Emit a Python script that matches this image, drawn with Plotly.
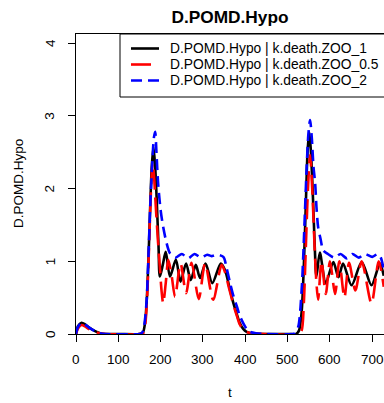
import plotly.graph_objects as go

# ---- data ----
t_black = [0, 5, 13, 22, 33, 45, 57, 70, 100, 150, 158, 163, 167, 171, 175, 179, 183, 187, 191, 195, 198,
           205, 212, 222, 236, 247, 260, 271, 283, 293, 306, 322, 342, 352, 362, 372, 380, 387, 395, 403, 415,
           450, 500, 520, 527, 533, 538, 543, 547, 551, 555, 560, 564, 568, 576, 590, 608, 620, 631, 651,
           675, 698, 718, 727]
v_black = [0, 0.11, 0.155, 0.13, 0.08, 0.04, 0.01, 0, 0, 0, 0.02, 0.15, 0.45, 1.0, 1.7, 2.3, 2.57, 2.3, 1.8,
           1.2, 0.79, 0.95, 1.13, 0.79, 1.02, 0.72, 0.97, 0.74, 0.95, 0.77, 0.97, 0.70, 0.97, 0.88, 0.65,
           0.42, 0.27, 0.15, 0.07, 0.03, 0.01, 0, 0, 0, 0.05, 0.3, 0.9, 1.8, 2.5, 2.78, 2.5, 1.84, 1.2, 0.79,
           1.12, 0.70, 0.99, 0.78, 0.97, 0.67, 0.99, 0.67, 0.97, 0.80]

t_red = [0, 5, 13, 22, 33, 45, 57, 70, 150, 160, 164, 168, 172, 176, 179, 181, 184, 187, 190, 194, 198, 202,
         206, 212, 218, 226, 234, 247, 260, 273, 290, 305, 324, 344, 352, 362, 372, 380, 387, 395, 403, 415,
         450, 525, 533, 538, 543, 548, 553, 558, 564, 568, 572, 580, 590, 600, 612, 622, 634, 645, 660, 675,
         698, 715, 727]
v_red = [0, 0.08, 0.124, 0.1, 0.06, 0.03, 0.01, 0, 0, 0.02, 0.15, 0.5, 1.1, 1.8, 2.2, 2.35, 2.2, 1.9, 1.61,
         1.25, 0.93, 0.6, 0.42, 0.7, 1.02, 0.8, 0.51, 0.97, 0.56, 0.98, 0.48, 0.97, 0.47, 0.95, 0.85, 0.62,
         0.4, 0.25, 0.13, 0.06, 0.03, 0.01, 0, 0, 0.05, 0.4, 1.2, 2.0, 2.46, 2.0, 1.15, 0.7, 0.47, 1.0, 0.55,
         1.0, 0.55, 1.0, 0.5, 0.98, 0.6, 1.0, 0.42, 1.0, 0.65]

t_blue = [0, 5, 13, 22, 33, 45, 57, 70, 150, 155, 159, 163, 167, 171, 175, 178, 181, 184, 187, 190, 194, 200,
          206, 214, 222, 235, 250, 265, 280, 295, 310, 320, 332, 348, 356, 364, 372, 380, 387, 395, 403, 411,
          425, 450, 510, 517, 525, 533, 537, 541, 545, 549, 553, 557, 561, 565, 568, 572, 578, 584, 595, 610,
          625, 640, 653, 668, 682, 700, 713, 720, 727]
v_blue = [0, 0.1, 0.155, 0.13, 0.08, 0.04, 0.01, 0, 0, 0.01, 0.05, 0.2, 0.47, 1.05, 1.7, 2.1, 2.44, 2.7, 2.78,
          2.5, 2.07, 1.70, 1.47, 1.25, 1.11, 1.05, 1.10, 1.04, 1.10, 1.05, 1.09, 1.07, 1.09, 1.06, 0.9, 0.70,
          0.52, 0.38, 0.25, 0.15, 0.07, 0.03, 0.01, 0, 0, 0.01, 0.1, 0.6, 1.1, 1.7, 2.3, 2.75, 2.94, 2.7, 2.3,
          2.07, 1.75, 1.47, 1.3, 1.15, 1.1, 1.05, 1.1, 1.04, 1.1, 1.05, 1.1, 1.06, 1.1, 1.05, 0.88]

series_names = ["D.POMD.Hypo | k.death.ZOO_1",
                "D.POMD.Hypo | k.death.ZOO_0.5",
                "D.POMD.Hypo | k.death.ZOO_2"]
x_ticks = [0, 100, 200, 300, 400, 500, 600, 700]
y_ticks = [0, 1, 2, 3, 4]

FONT = "Liberation Sans, Arial, Helvetica, sans-serif"
W, H = 384, 403
L, T, B = 76, 34, 69
PW, PH = W - L, H - T - B

styles = [dict(color="black", dash="solid"),
          dict(color="red", dash="20px,8px"),
          dict(color="blue", dash="11px,6px")]
LW = 2.6

fig = go.Figure()
for (tx, vy), name, st in zip([(t_black, v_black), (t_red, v_red), (t_blue, v_blue)], series_names, styles):
    fig.add_trace(go.Scatter(x=tx, y=vy, mode="lines", name=name, showlegend=False,
                             line=dict(color=st["color"], width=LW, shape="spline", smoothing=0.8,
                                       dash=st["dash"])))


def px_x(p):
    return (p - L) / PW


def px_y(p):
    return (H - B - p) / PH


# legend (R-style box in the top-right corner of the plot region)
row_y = [48.5, 64.5, 80.5]
shapes = [dict(type="rect", xref="paper", yref="paper", x0=px_x(120), x1=px_x(392),
               y0=px_y(97), y1=px_y(34), line=dict(color="black", width=1), fillcolor="white", layer="above")]
annotations = []
for ry, name, st in zip(row_y, series_names, styles):
    shapes.append(dict(type="line", xref="paper", yref="paper", x0=px_x(131), x1=px_x(159),
                       y0=px_y(ry), y1=px_y(ry), layer="above",
                       line=dict(color=st["color"], width=LW, dash=st["dash"])))
    annotations.append(dict(text=name, xref="paper", yref="paper", x=px_x(169), y=px_y(ry),
                            xanchor="left", yanchor="middle", showarrow=False, borderpad=0,
                            font=dict(size=13.8, family=FONT, color="black")))

# tick labels placed at the axis values
for xv in x_ticks:
    annotations.append(dict(text=str(xv), xref="x", yref="paper", x=xv, y=px_y(359),
                            xanchor="center", yanchor="middle", showarrow=False, borderpad=0,
                            font=dict(size=13.5)))
for yv in y_ticks:
    annotations.append(dict(text=str(yv), xref="paper", yref="y", x=px_x(50), y=yv,
                            xanchor="center", yanchor="middle", textangle=-90, showarrow=False,
                            borderpad=0, font=dict(size=13.5)))

annotations += [
    dict(text="t", xref="paper", yref="paper", x=px_x(230), y=px_y(392),
         xanchor="center", yanchor="middle", showarrow=False, font=dict(size=13.5)),
    dict(text="D.POMD.Hypo", xref="paper", yref="paper", x=px_x(18), y=0.5,
         xanchor="center", yanchor="middle", textangle=-90, showarrow=False, font=dict(size=13.5)),
]

fig.update_layout(
    width=W, height=H,
    margin=dict(l=L, r=0, t=T, b=B, pad=0),
    paper_bgcolor="white", plot_bgcolor="white",
    font=dict(family=FONT, size=13.5, color="black"),
    title=dict(text="<b>D.POMD.Hypo</b>", x=230 / W, xanchor="center", y=1 - 17 / H, yanchor="middle",
               font=dict(size=17.3, family=FONT, color="black")),
    showlegend=False,
    shapes=shapes,
    annotations=annotations,
    xaxis=dict(range=[0, 727.6], tickmode="array", tickvals=x_ticks, ticks="outside", ticklen=7,
               tickwidth=1, tickcolor="black", showline=True, linecolor="black", linewidth=1, mirror=True,
               showgrid=False, zeroline=False, showticklabels=False),
    yaxis=dict(range=[0, 4.124], tickmode="array", tickvals=y_ticks, ticks="outside", ticklen=7,
               tickwidth=1, tickcolor="black", showline=True, linecolor="black", linewidth=1,
               showgrid=False, zeroline=False, showticklabels=False),
)

fig.write_html("out.html")
